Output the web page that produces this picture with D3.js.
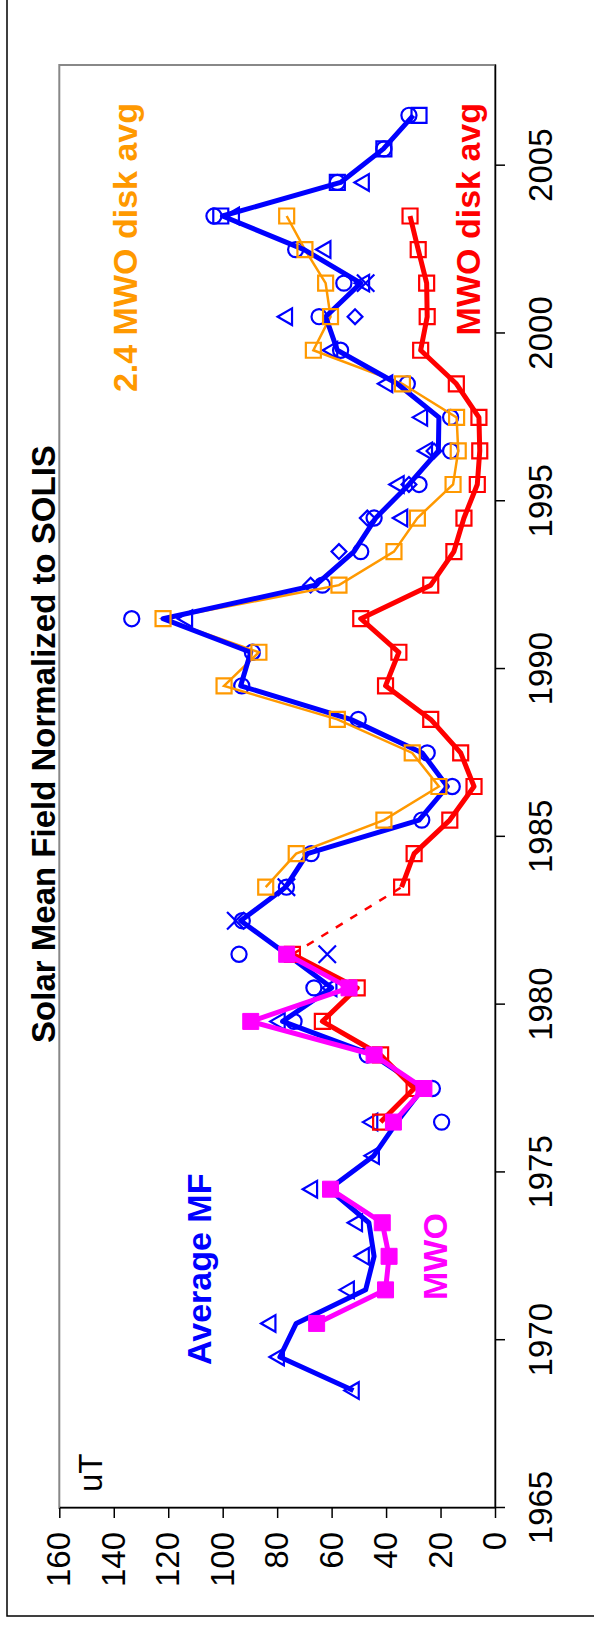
<!DOCTYPE html>
<html>
<head>
<meta charset="utf-8">
<script src="https://d3js.org/d3.v7.min.js"></script>
<style>
  body { margin: 0; background: #fff; }
</style>
</head>
<body>
<div id="chart"></div>
<script>
// chart is laid out landscape, then turned a quarter turn to the left

const years = [1968.5, 1969.5, 1970.5, 1971.5, 1972.5, 1973.5, 1974.5, 1975.5, 1976.5, 1977.5,
               1978.5, 1979.5, 1980.5, 1981.5, 1982.5, 1983.5, 1984.5, 1985.5, 1986.5, 1987.5,
               1988.5, 1989.5, 1990.5, 1991.5, 1992.5, 1993.5, 1994.5, 1995.5, 1996.5, 1997.5,
               1998.5, 1999.5, 2000.5, 2001.5, 2002.5, 2003.5, 2004.5, 2005.5, 2006.5];

// Average MF (blue thick line)
const avgMF = [52, 79, 73, 47.5, 44.4, 46.3, 61, 44.5, 36, 26.5,
               45, 78, 60, 76.5, 93.4, 76.9, 68.9, 27.9, 17.5, 26.7,
               53, 93.4, 89.7, 121.9, 65.9, 51.8, 43.8, 31.6, 20.8, 20.6,
               35.9, 57.9, 62.2, 49.3, 70.1, 100.1, 56.7, 41, 30];

// individual observatories (blue open markers)
const triMF = [51.8, 79.3, 82.4, 53.6, 48.1, 50.6, 67.1, 44.4, 45, null,
               null, 79, 60, null, null, null, null, null, null, null,
               null, null, null, 113, null, null, 34, 35.3, 24.9, 26.7,
               39.5, 59.7, 76.3, 48, 62.2, 95.8, 48.1, null, null];
const circMF = [null, null, null, null, null, null, null, null, 19.6, 23,
                46.9, 73.8, 66.5, 94, 92.8, 76.6, 67.5, 26.9, 15.7, 24.9,
                50.2, 93, 89.1, 133.4, 63.4, 49.3, 44.4, 27.9, 16.3, 16.3,
                32.2, 56.7, 64.6, 55.5, 73.2, 103.2, 57.9, 40.8, 31.6];
const diamMF = [null, null, null, null, null, null, null, null, null, null,
                null, null, null, null, null, null, null, null, null, null,
                null, null, null, null, 67.7, 57.3, 46.9, 31.6, 22.4, null,
                null, null, 51.4, null, null, null, null, null, null];
const sqMF = [null, null, null, null, null, null, null, null, null, null,
              null, null, null, null, null, null, null, null, null, null,
              null, null, null, null, null, null, null, null, null, null,
              null, null, null, null, null, 100.7, 57.9, 40.8, 27.9];
const crossMF = [null, null, null, null, null, null, null, null, null, null,
                 null, null, null, 61.6, 95.2, 76.6, null, null, null, null,
                 null, null, null, null, null, null, null, null, null, null,
                 null, null, null, 47.5, null, null, null, null, null];

// MWO (magenta, filled squares)
const mwo = [null, null, 65.5, 40.2, 38.9, 41.4, 60.4, null, 37.3, 26.1,
             44.4, 89.7, 53.6, 76.5, null, null, null, null, null, null,
             null, null, null, null, null, null, null, null, null, null,
             null, null, null, null, null, null, null, null, null];

// MWO disk avg (red)
const mwoDisk = [null, null, null, null, null, null, null, null, 42, 29.7,
                 42, 63.4, 50.6, 74.4, null, 34.3, 29.7, 16.6, 7.7, 12.6,
                 23.6, 40.2, 35.3, 49.3, 23.6, 15.1, 11.4, 6.5, 5.6, 5.9,
                 14.2, 27.3, 24.9, 25.1, 28.2, 31.2, null, null, null];

// 2.4 MWO disk avg (orange)
const mwo24 = [null, null, null, null, null, null, null, null, null, null,
               null, null, null, null, null, 84.2, 73, 40.8, 20.6, 30.4,
               57.9, 99.5, 86.7, 121.9, 57.3, 37.1, 28.5, 15.4, 13.5, 14.1,
               34, 66.7, 60.4, 62.2, 69.8, 76.5, null, null, null];

const yearTicks = [1965, 1970, 1975, 1980, 1985, 1990, 1995, 2000, 2005];
const valueTicks = [0, 20, 40, 60, 80, 100, 120, 140, 160];

const W = 1629;
const H = 594;
const font = 'Liberation Sans, Arial, Helvetica, sans-serif';

const svg = d3.select('#chart')
    .append('svg')
        .attr('width', H)
        .attr('height', W);

const g = svg.append('g')
    .attr('transform', `translate(0, ${W}) rotate(-90)`);

// outer border
g.append('rect')
    .attr('x', 13).attr('y', 7)
    .attr('width', W).attr('height', H)
    .attr('fill', 'none')
    .attr('stroke', '#000')
    .attr('stroke-width', 1.5);

const xScale = d3.scaleLinear()
    .domain([1965, 2008])
    .range([121, 1564]);

const yScale = d3.scaleLinear()
    .domain([0, 160])
    .range([495, 59.3]);

// plot area frame
g.append('rect')
    .attr('x', xScale(1965)).attr('y', yScale(160))
    .attr('width', xScale(2008) - xScale(1965))
    .attr('height', yScale(0) - yScale(160))
    .attr('fill', 'none')
    .attr('stroke', '#888')
    .attr('stroke-width', 2);

// axes
const xAxis = g.append('g')
    .attr('transform', `translate(0, ${yScale(0)})`)
    .call(d3.axisBottom(xScale)
        .tickValues(yearTicks)
        .tickFormat(d3.format('d'))
        .tickSize(10)
        .tickSizeOuter(0)
        .tickPadding(24));

const yAxis = g.append('g')
    .attr('transform', `translate(${xScale(1965)}, 0)`)
    .call(d3.axisLeft(yScale)
        .tickValues(valueTicks)
        .tickSize(10)
        .tickSizeOuter(0)
        .tickPadding(14));

[xAxis, yAxis].forEach((a) => {
    a.attr('font-family', font).attr('font-size', 33);
    a.select('.domain').attr('stroke', '#000').attr('stroke-width', 1.5);
    a.selectAll('.tick line').attr('stroke', '#000').attr('stroke-width', 1.5);
    a.selectAll('.tick text').attr('fill', '#000');
});

const pairs = (series) => years.map((yr, i) => [yr, series[i]]);

const line = d3.line()
    .defined((d) => d[1] != null)
    .x((d) => xScale(d[0]))
    .y((d) => yScale(d[1]));

function markers(series, type, size, colour, filled, rotate) {
    g.append('g')
        .selectAll('path')
        .data(pairs(series).filter((d) => d[1] != null))
        .enter()
            .append('path')
                .attr('d', d3.symbol().type(type).size(size))
                .attr('transform', (d) => `translate(${xScale(d[0])}, ${yScale(d[1])})` + (rotate ? ' rotate(45)' : ''))
                .attr('fill', filled ? colour : 'none')
                .attr('stroke', colour)
                .attr('stroke-width', filled ? 1 : 2.2);
}

// observatory markers
markers(triMF, d3.symbolTriangle, 120, '#0000ff', false);
markers(circMF, d3.symbolCircle, 180, '#0000ff', false);
markers(diamMF, d3.symbolSquare, 110, '#0000ff', false, true);
markers(sqMF, d3.symbolSquare, 225, '#0000ff', false);
markers(crossMF, d3.symbolTimes, 200, '#0000ff', false);

// 2.4 MWO disk avg
g.append('path')
    .datum(pairs(mwo24))
    .attr('d', line)
    .attr('fill', 'none')
    .attr('stroke', '#ff9900')
    .attr('stroke-width', 2.5);

// Average MF
g.append('path')
    .datum(pairs(avgMF))
    .attr('d', line)
    .attr('fill', 'none')
    .attr('stroke', '#0000ff')
    .attr('stroke-width', 5)
    .attr('stroke-linejoin', 'round');

markers(mwo24, d3.symbolSquare, 225, '#ff9900', false);

// MWO disk avg
g.append('path')
    .datum(pairs(mwoDisk))
    .attr('d', line)
    .attr('fill', 'none')
    .attr('stroke', '#ff0000')
    .attr('stroke-width', 5)
    .attr('stroke-linejoin', 'round');

// dashed bridge over the missing year
g.append('path')
    .datum([[years[13], mwoDisk[13]], [years[15], mwoDisk[15]]])
    .attr('d', line)
    .attr('fill', 'none')
    .attr('stroke', '#ff0000')
    .attr('stroke-width', 2.5)
    .attr('stroke-dasharray', '8,9');

markers(mwoDisk, d3.symbolSquare, 225, '#ff0000', false);

// MWO
g.append('path')
    .datum(pairs(mwo))
    .attr('d', line)
    .attr('fill', 'none')
    .attr('stroke', '#ff00ff')
    .attr('stroke-width', 5)
    .attr('stroke-linejoin', 'round');

markers(mwo, d3.symbolSquare, 256, '#ff00ff', true);

// texts
function label(txt, x, y, colour, size, bold, anchor) {
    g.append('text')
        .attr('x', x).attr('y', y)
        .attr('text-anchor', anchor || 'start')
        .attr('font-family', font)
        .attr('font-size', size)
        .attr('font-weight', bold ? 'bold' : 'normal')
        .attr('fill', colour)
        .text(txt);
}

label('Solar Mean Field Normalized to SOLIS', 885, 55, '#000', 33, true, 'middle');
label('uT', 137, 102, '#000', 33, false);
label('2.4 MWO disk avg', 1526, 137, '#ff9900', 34, true, 'end');
label('MWO disk avg', 1526, 480, '#ff0000', 34, true, 'end');
label('Average MF', 264, 211, '#0000ff', 34, true);
label('MWO', 329, 447, '#ff00ff', 34, true);
</script>
</body>
</html>
